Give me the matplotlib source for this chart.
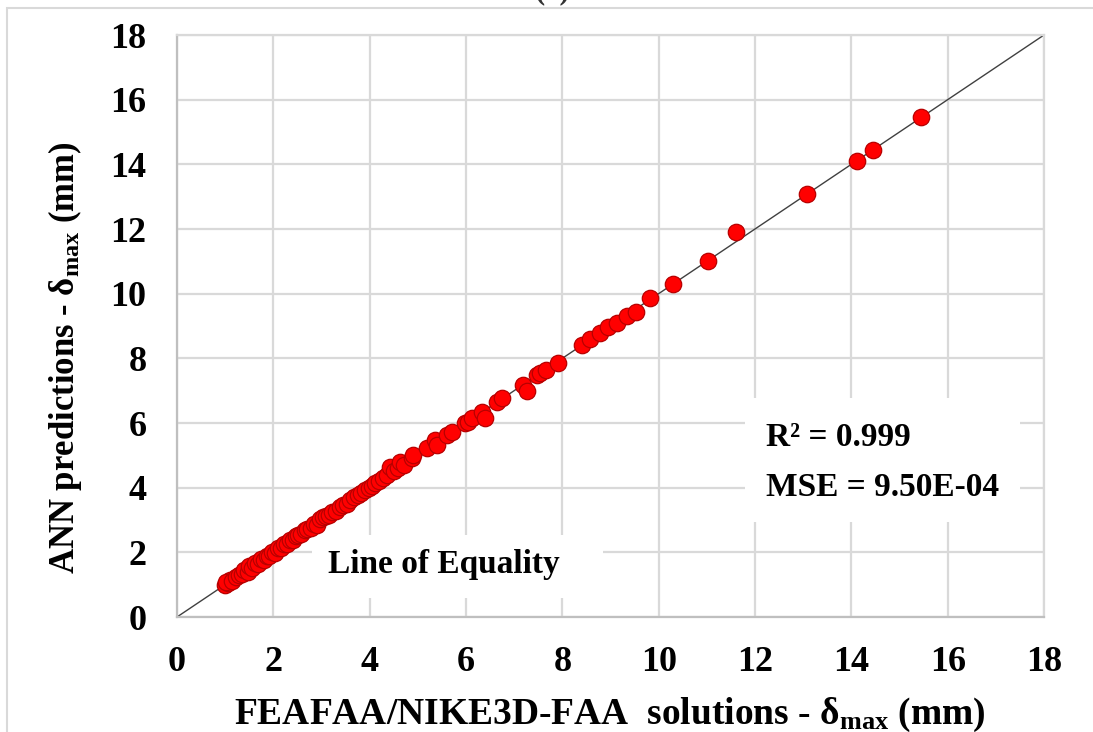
import matplotlib
matplotlib.use("Agg")
import matplotlib.pyplot as plt
from matplotlib.patches import Rectangle

# FEAFAA/NIKE3D-FAA maximum deflections (mm) and the matching ANN predictions
fe_delta = [1.00, 1.05, 1.10, 1.02, 1.15, 1.22, 1.28, 1.35, 1.40, 1.47, 1.50,
            1.55, 1.62, 1.68, 1.75, 1.80, 1.86, 1.92, 1.98, 2.03, 2.10, 2.15,
            2.22, 2.28, 2.35, 2.40, 2.47, 2.52, 2.58, 2.65, 2.70, 2.78, 2.85,
            2.90, 2.97, 3.03, 3.10, 3.15, 3.22, 3.30, 3.38, 3.45, 3.52, 3.60,
            3.68, 3.75, 3.82, 3.90, 3.98, 4.05, 4.12, 4.20, 4.28, 4.35, 4.42,
            4.50, 4.58, 4.63, 4.72, 4.87, 4.91, 5.18, 5.36, 5.39, 5.60, 5.70,
            5.98, 6.05, 6.12, 6.33, 6.39, 6.64, 6.74, 7.19, 7.26, 7.47, 7.54,
            7.67, 7.90, 8.40, 8.57, 8.78, 8.95, 9.13, 9.34, 9.53, 9.83, 10.30,
            11.03, 11.60, 13.07, 14.12, 14.45, 15.45]
ann_delta = [0.98, 1.04, 1.14, 1.08, 1.12, 1.25, 1.30, 1.32, 1.45, 1.40, 1.58,
             1.52, 1.66, 1.64, 1.80, 1.77, 1.90, 1.88, 2.02, 1.99, 2.14, 2.12,
             2.26, 2.25, 2.38, 2.37, 2.50, 2.55, 2.56, 2.68, 2.73, 2.76, 2.88,
             2.86, 3.02, 3.08, 3.12, 3.14, 3.26, 3.28, 3.40, 3.46, 3.50, 3.63,
             3.70, 3.78, 3.84, 3.92, 4.00, 4.06, 4.15, 4.22, 4.30, 4.38, 4.65,
             4.52, 4.60, 4.80, 4.70, 4.91, 5.01, 5.22, 5.47, 5.32, 5.63, 5.73,
             5.99, 6.02, 6.14, 6.35, 6.14, 6.66, 6.77, 7.18, 7.00, 7.49, 7.54,
             7.64, 7.85, 8.41, 8.59, 8.77, 8.98, 9.10, 9.32, 9.42, 9.86, 10.30,
             11.01, 11.90, 13.07, 14.11, 14.45, 15.46]

axis_ticks = [0, 2, 4, 6, 8, 10, 12, 14, 16, 18]
equality_line = [0, 18]
r2_text = "R² = 0.999"
mse_text = "MSE = 9.50E-04"
equality_text = "Line of Equality"
x_label = "FEAFAA/NIKE3D-FAA  solutions - δ$_{\\rm max}$ (mm)"
y_label = "ANN predictions - δ$_{\\rm max}$ (mm)"

plt.rcParams["font.family"] = ["Liberation Serif", "DejaVu Serif"]
plt.rcParams["font.weight"] = "bold"
plt.rcParams["mathtext.fontset"] = "custom"
plt.rcParams["mathtext.rm"] = "Liberation Serif:bold"
plt.rcParams["mathtext.bf"] = "Liberation Serif:bold"
plt.rcParams["mathtext.it"] = "Liberation Serif:bold"

W, H = 1093, 732
fig = plt.figure(figsize=(W / 100, H / 100), dpi=100)
ax = fig.add_axes([177 / W, 1 - 617 / H, (1044 - 177) / W, (617 - 35) / H])

# outer chart frame
fig.patches.append(Rectangle((7 / W, -0.05), 1.2, 1 - 8 / H + 0.05,
                             transform=fig.transFigure, fill=False,
                             ec="#D9D9D9", lw=1.5, zorder=0))
fig.text(552 / W, 1 + 2 / H, "(a)", ha="center", va="baseline",
         fontsize=22, fontweight="bold", color="#333333")

ax.set_xlim(0, 18)
ax.set_ylim(0, 18)
ax.set_xticks(axis_ticks)
ax.set_yticks(axis_ticks)
ax.set_axisbelow(True)
ax.grid(True, color="#D9D9D9", lw=1.6)
for side in ["top", "right"]:
    ax.spines[side].set_color("#D9D9D9")
    ax.spines[side].set_linewidth(1.6)
for side in ["left", "bottom"]:
    ax.spines[side].set_color("#BFBFBF")
    ax.spines[side].set_linewidth(1.6)
ax.tick_params(length=0, labelsize=26)
ax.tick_params(axis="x", pad=21)
ax.tick_params(axis="y", pad=22)
for lab in ax.get_xticklabels() + ax.get_yticklabels():
    lab.set_fontweight("bold")

# white text boxes that hide the gridlines behind the annotations
ax.add_patch(Rectangle((2.8, 0.59), 6.04, 1.96, fc="white", ec="none", zorder=1))
ax.add_patch(Rectangle((11.79, 2.94), 5.71, 3.83, fc="white", ec="none", zorder=1))

ax.plot(equality_line, equality_line, color="#404040", lw=1.0, zorder=2)
ax.scatter(fe_delta, ann_delta, s=140, c="#FF0000", edgecolors="#B80000",
           linewidths=0.9, zorder=3)

ax.text(5.54, 1.62, equality_text, ha="center", va="center", fontsize=24,
        fontweight="bold", zorder=4)
ax.text(12.22, 5.56, r2_text, ha="left", va="center", fontsize=24,
        fontweight="bold", zorder=4)
ax.text(12.22, 4.00, mse_text, ha="left", va="center", fontsize=24,
        fontweight="bold", zorder=4)

fig.text(610 / W, 1 - 715 / H, x_label, ha="center", va="center",
         fontsize=27, fontweight="bold")
fig.text(65 / W, 1 - 358 / H, y_label, ha="center", va="center",
         rotation=90, fontsize=25, fontweight="bold")

fig.savefig("out.png", dpi=100, facecolor="white")
